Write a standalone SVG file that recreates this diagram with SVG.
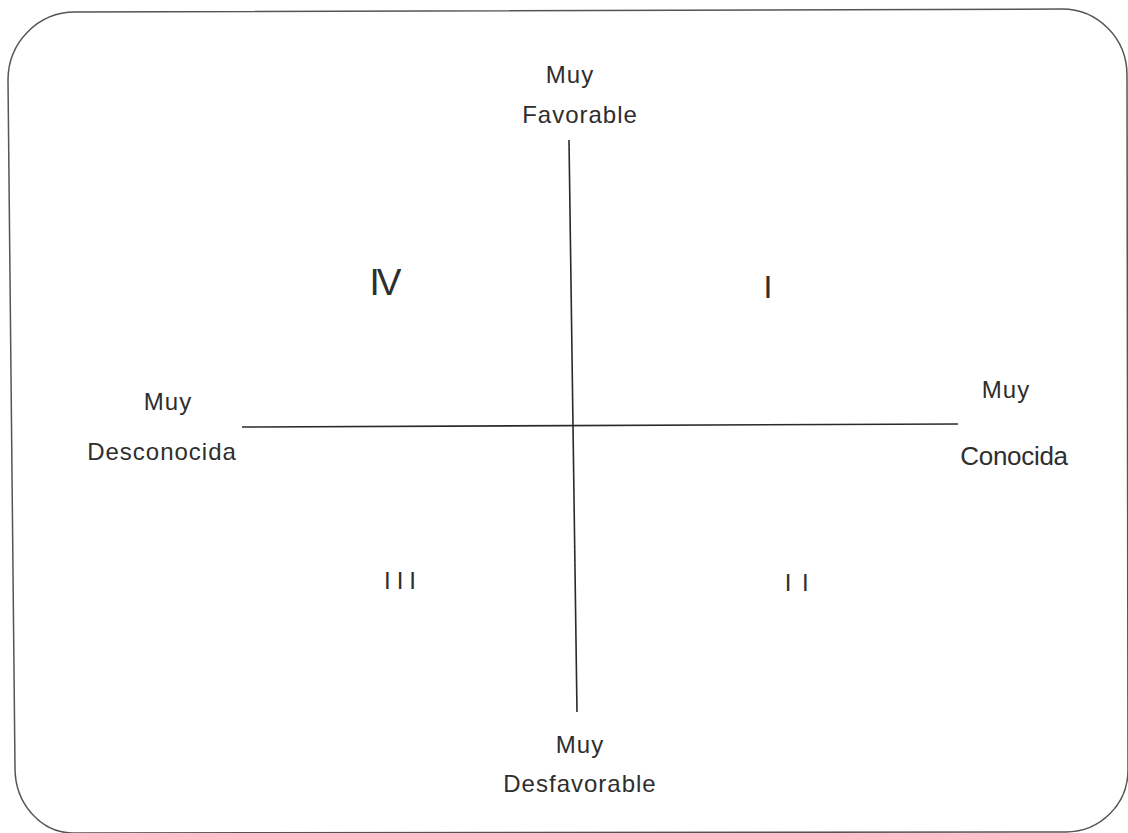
<svg xmlns="http://www.w3.org/2000/svg" width="1128" height="833" viewBox="0 0 1128 833">
<style>
.t{font-family:"Liberation Sans",Arial,sans-serif;fill:#2e2e2e;text-anchor:middle}
.lbl{font-size:24px;letter-spacing:1px}
.ax{stroke:#2a2a2a;stroke-width:1.6;fill:none}
</style>
<rect width="1128" height="833" fill="#fff"/>
<g id="frame">
<path d="M75,12 L1062,9 A65,66 0 0 1 1127,75 L1128,770 A62,62 0 0 1 1066,832 L72,833 A58,65 0 0 1 15,768 L8,80 A67,68 0 0 1 75,12 Z" fill="none" stroke="#555" stroke-width="1.5"/>
</g>
<g id="connectors">
<line class="ax" x1="569" y1="140" x2="577" y2="712"/>
<line class="ax" x1="242" y1="427" x2="958" y2="424"/>
</g>
<g id="top-label"><text class="t lbl" x="570" y="83">Muy</text><text class="t lbl" x="580" y="123">Favorable</text></g>
<g id="left-label"><text class="t lbl" x="168" y="410">Muy</text><text class="t lbl" x="162" y="460">Desconocida</text></g>
<g id="right-label"><text class="t lbl" x="1006" y="398">Muy</text><text class="t" style="font-size:26px;letter-spacing:-0.3px" x="1014" y="465">Conocida</text></g>
<g id="bottom-label"><text class="t lbl" x="580" y="753">Muy</text><text class="t lbl" x="580" y="792">Desfavorable</text></g>
<g id="q4"><text class="t" style="font-size:37px;letter-spacing:-3px" x="384" y="295">IV</text></g>
<g id="q1"><text class="t" style="font-size:32px" x="768" y="298">I</text></g>
<g id="q3"><text class="t" style="font-size:24px;letter-spacing:6px" x="403" y="589">III</text></g>
<g id="q2"><text class="t" style="font-size:24px;letter-spacing:10.5px" x="802" y="591">II</text></g>
</svg>
